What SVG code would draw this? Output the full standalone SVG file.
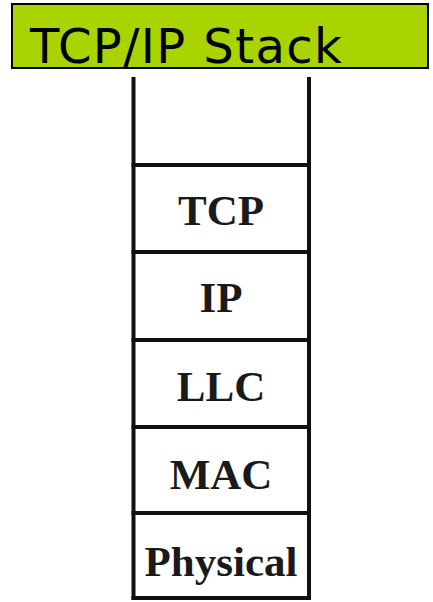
<svg xmlns="http://www.w3.org/2000/svg" width="433" height="602" viewBox="0 0 433 602">
  <style>
    .rule { stroke: #111; stroke-width: 4; fill: none; stroke-linecap: butt; }
    .layer { font-family: "Liberation Serif", "Times New Roman", serif; font-weight: bold; font-size: 43px; fill: #1a1a1a; text-anchor: middle; }
    .title { font-family: "DejaVu Sans", Verdana, sans-serif; font-size: 48px; letter-spacing: 1.4px; fill: #000; }
  </style>
  <rect width="433" height="602" fill="#fff"/>

  <!-- heading banner -->
  <g id="title">
    <rect x="12" y="4" width="416" height="64" fill="#aad400" stroke="#000" stroke-width="2"/>
    <text class="title" x="30" y="63">TCP/IP Stack</text>
  </g>

  <!-- stack frame: side rails and layer separators -->
  <g id="frame">
    <line class="rule" x1="133.5" y1="77" x2="133.5" y2="600"/>
    <line class="rule" x1="309" y1="77" x2="309" y2="600"/>
    <line class="rule" x1="131.5" y1="165" x2="311" y2="165"/>
    <line class="rule" x1="131.5" y1="252" x2="311" y2="252"/>
    <line class="rule" x1="131.5" y1="340" x2="311" y2="340"/>
    <line class="rule" x1="131.5" y1="427" x2="311" y2="427"/>
    <line class="rule" x1="131.5" y1="513" x2="311" y2="513"/>
    <line class="rule" x1="131.5" y1="598" x2="311" y2="598"/>
  </g>

  <g id="layer-tcp"><text class="layer" x="221" y="225">TCP</text></g>
  <g id="layer-ip"><text class="layer" x="221" y="312">IP</text></g>
  <g id="layer-llc"><text class="layer" x="221" y="401">LLC</text></g>
  <g id="layer-mac"><text class="layer" x="221" y="489">MAC</text></g>
  <g id="layer-physical"><text class="layer" x="221" y="576">Physical</text></g>

  <!-- no links between layers -->
  <g id="connectors"></g>
</svg>
